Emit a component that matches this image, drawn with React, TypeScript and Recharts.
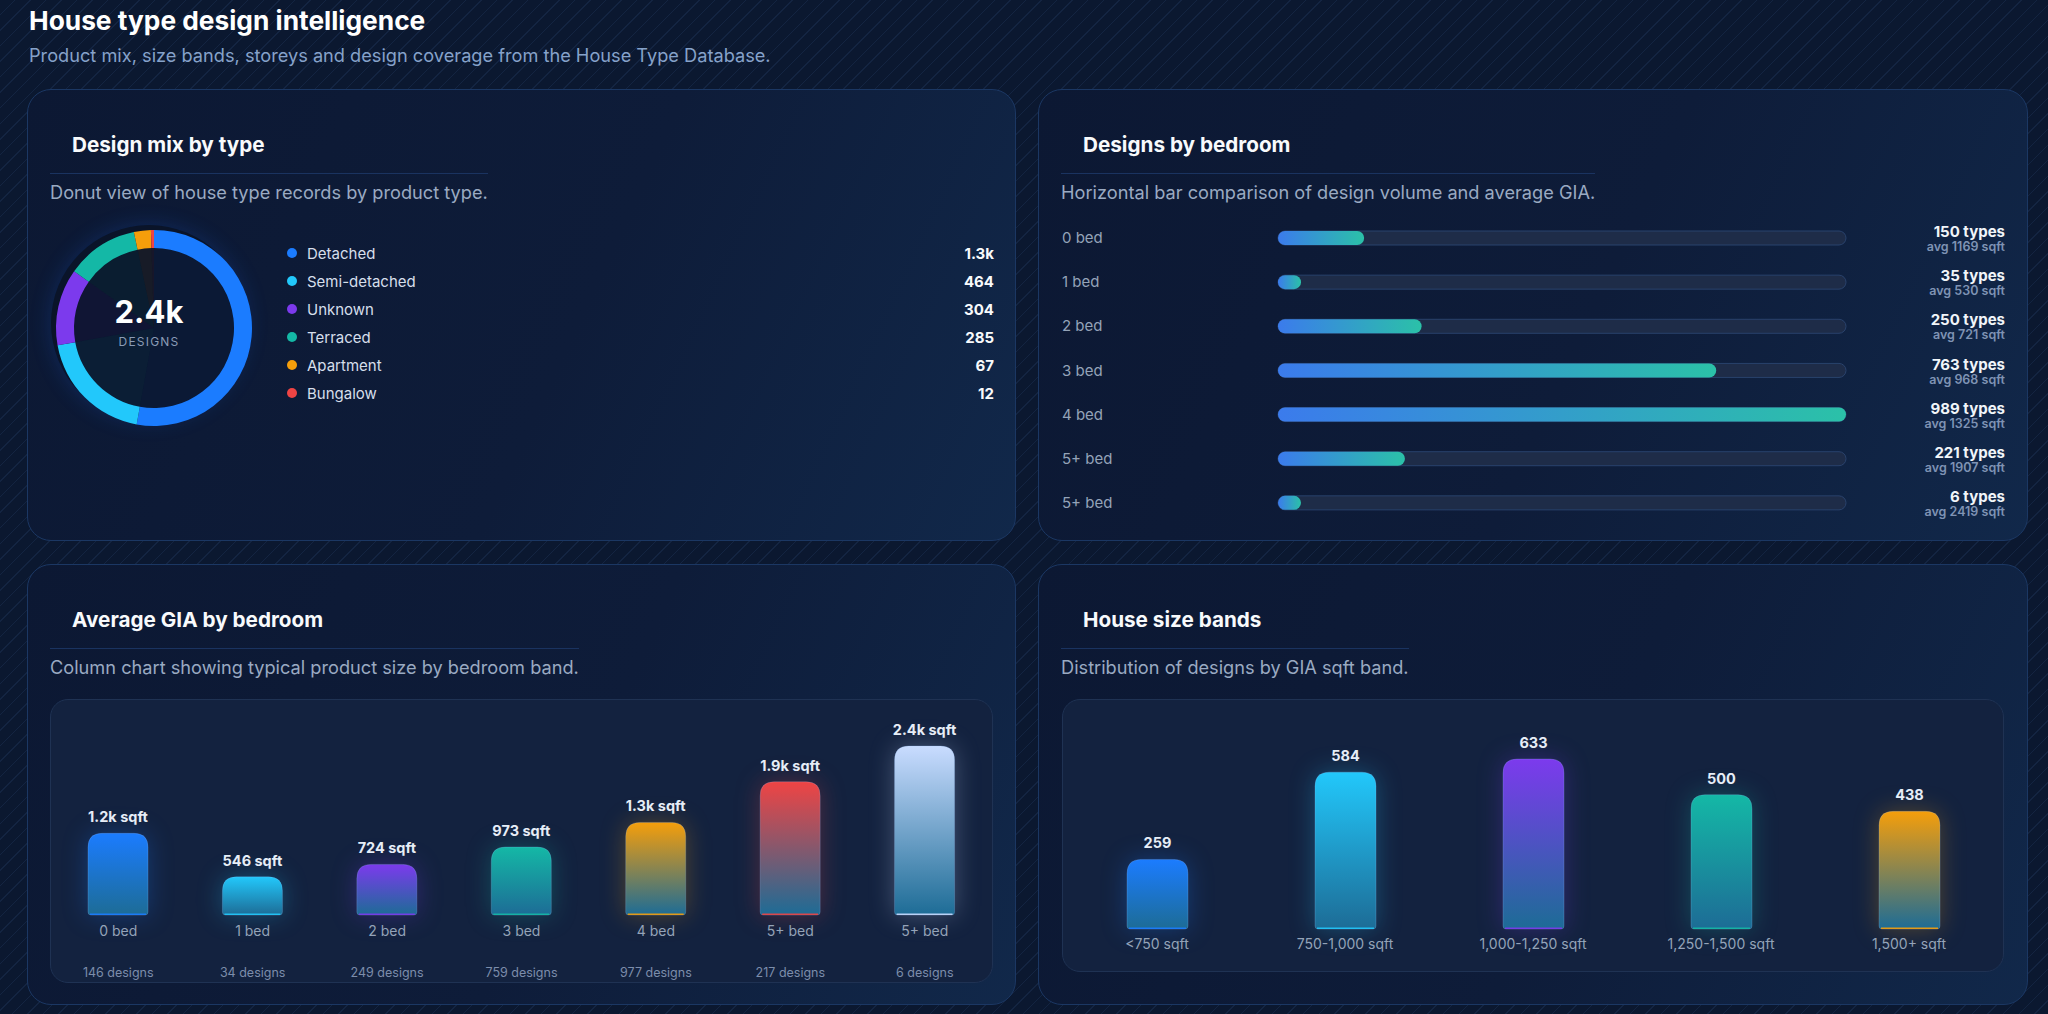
import { PieChart, Pie, Cell, BarChart, Bar, XAxis, YAxis, LabelList } from 'recharts'

const FONT = 'Inter, "Noto Sans", sans-serif'

// ─── Data ───────────────────────────────────────────────────────
const typeNames = ['Detached', 'Semi-detached', 'Unknown', 'Terraced', 'Apartment', 'Bungalow']
const typeCounts = [1268, 464, 304, 285, 67, 12]
const typeColors = ['#1b7cff', '#22c8fb', '#7c3aed', '#14b8a6', '#f59e0b', '#ef4444']

const bedLabels = ['0 bed', '1 bed', '2 bed', '3 bed', '4 bed', '5+ bed', '5+ bed']
const bedTypes = [150, 35, 250, 763, 989, 221, 6]
const bedAvgSqft = [1169, 530, 721, 968, 1325, 1907, 2419]

const giaLabels = ['0 bed', '1 bed', '2 bed', '3 bed', '4 bed', '5+ bed', '5+ bed']
const giaSqft = [1169, 546, 724, 973, 1325, 1907, 2419]
const giaDesigns = [146, 34, 249, 759, 977, 217, 6]
const giaColors = ['#1b7cff', '#22c8fb', '#7c3aed', '#14b8a6', '#f59e0b', '#ef4444', '#c9dcff']

const bandLabels = ['<750 sqft', '750-1,000 sqft', '1,000-1,250 sqft', '1,250-1,500 sqft', '1,500+ sqft']
const bandCounts = [259, 584, 633, 500, 438]
const bandColors = ['#1b7cff', '#22c8fb', '#7c3aed', '#14b8a6', '#f59e0b']

const typeData = typeNames.map((name, i) => ({ name, value: typeCounts[i] }))
const bedData = bedLabels.map((label, i) => ({ label, types: bedTypes[i], avg: bedAvgSqft[i] }))
const giaData = giaLabels.map((label, i) => ({ label, sqft: giaSqft[i], designs: giaDesigns[i] }))
const bandData = bandLabels.map((label, i) => ({ label, count: bandCounts[i] }))

const fmtK = (v: number) => (v >= 1000 ? `${(v / 1000).toFixed(1)}k` : `${v}`)
const totalDesigns = typeCounts.reduce((a, b) => a + b, 0)

const BOTTOM_TINT = '#1d6c96'

// ─── Card shell ─────────────────────────────────────────────────
function Card({ left, top, width, height, title, subtitle, children }: any) {
  return (
    <div
      style={{
        position: 'absolute', left, top, width, height, boxSizing: 'border-box',
        borderRadius: 24, border: '1px solid #1b3763',
        background: 'linear-gradient(115deg, #0c1833 0%, #0e1c39 55%, #11284a 100%)',
        overflow: 'hidden',
      }}
    >
      <div style={{ position: 'absolute', left: 22, top: 42, display: 'inline-flex', flexDirection: 'column' }}>
        <div
          style={{
            fontSize: 20.7, fontWeight: 700, color: '#f8fafc', lineHeight: '25px',
            padding: '0 0 16px 22px', borderBottom: '1.5px solid #1a3360',
          }}
        >
          {title}
        </div>
        <div style={{ marginTop: 7, fontSize: 18.2, lineHeight: '22px', color: '#9aaac2', whiteSpace: 'nowrap' }}>
          {subtitle}
        </div>
      </div>
      {children}
    </div>
  )
}

function Panel({ left, top, width, height, children }: any) {
  return (
    <div
      style={{
        position: 'absolute', left, top, width, height, boxSizing: 'border-box',
        borderRadius: 18, border: '1px solid #1f3253', background: '#13223f',
      }}
    >
      {children}
    </div>
  )
}

// ─── Column shape with rounded top + glow ───────────────────────
function Column(props: any) {
  const { x, y, width, height, index, colors, prefix } = props
  if (!height || height <= 0) return null
  const c = colors[index]
  const r = Math.min(14, height / 2)
  const rb = 3
  const b = y + height
  const d = `M${x},${y + r} Q${x},${y} ${x + r},${y} L${x + width - r},${y} Q${x + width},${y} ${x + width},${y + r}
    L${x + width},${b - rb} Q${x + width},${b} ${x + width - rb},${b} L${x + rb},${b} Q${x},${b} ${x},${b - rb} Z`
  return (
    <g style={{ filter: `drop-shadow(0 0 12px ${c}48)` }}>
      <path d={d} fill={`url(#${prefix}${index})`} stroke="rgba(160,200,255,0.22)" strokeWidth={1} />
      <rect x={x + 2} y={b - 1.5} width={width - 4} height={1.5} fill={c} opacity={0.9} />
    </g>
  )
}

// pill fill for the horizontal bars, never thinner than a small cap
function Pill(props: any) {
  const { x, y, width, height, fill } = props
  const w = Math.max(width, 23)
  const r = height / 2
  return <rect x={x} y={y} width={w} height={height} rx={r} ry={r} fill={fill} />
}

// ─── Donut ──────────────────────────────────────────────────────
function DesignMix() {
  return (
    <>
      <div
        style={{
          position: 'absolute', left: 23, top: 135, width: 196, height: 196, borderRadius: '50%',
          background: '#0a1429', boxShadow: '0 0 22px rgba(30,110,255,0.2)',
        }}
      />
      <div style={{ position: 'absolute', left: 11, top: 123 }}>
        <PieChart width={220} height={220}>
          <Pie
            data={typeData} dataKey="value" cx={110} cy={110} innerRadius={0} outerRadius={80}
            startAngle={90} endAngle={-270} stroke="none" isAnimationActive={false}
          >
            {typeColors.map((c, i) => <Cell key={i} fill={c} fillOpacity={0.06} />)}
          </Pie>
          <Pie
            data={typeData} dataKey="value" cx={110} cy={110} innerRadius={80} outerRadius={98}
            startAngle={90} endAngle={-270} stroke="none" isAnimationActive={false}
          >
            {typeColors.map((c, i) => <Cell key={i} fill={c} />)}
          </Pie>
        </PieChart>
      </div>
      <div style={{ position: 'absolute', left: 11, top: 204, width: 220, textAlign: 'center' }}>
        <div style={{ fontSize: 31, fontWeight: 700, color: '#ffffff', lineHeight: '36px' }}>{fmtK(totalDesigns)}</div>
        <div style={{ fontSize: 12, letterSpacing: 1.2, color: '#8a9bb6', lineHeight: '16px', marginTop: 4 }}>DESIGNS</div>
      </div>
      <div style={{ position: 'absolute', left: 259, top: 149, width: 707 }}>
        {typeNames.map((name, i) => (
          <div key={i} style={{ display: 'flex', alignItems: 'center', height: 28 }}>
            <div style={{ width: 10, height: 10, borderRadius: '50%', background: typeColors[i], marginRight: 10 }} />
            <div style={{ flex: 1, fontSize: 15, color: '#d6dfeb' }}>{name}</div>
            <div style={{ fontSize: 15, fontWeight: 700, color: '#f8fafc' }}>{fmtK(typeCounts[i])}</div>
          </div>
        ))}
      </div>
    </>
  )
}

// ─── Horizontal bars ────────────────────────────────────────────
const LEFT_W = 216
const RIGHT_W = 159

function BedTick(props: any) {
  const { x, y, payload } = props
  return (
    <text x={x - LEFT_W} y={y + 5} fontSize={15} fill="#94a3b8" fontFamily={FONT}>
      {payload.value}
    </text>
  )
}

function BedStatTick(props: any) {
  const { x, y, index } = props
  const row = bedData[index]
  return (
    <g fontFamily={FONT} textAnchor="end">
      <text x={x + RIGHT_W} y={y - 1} fontSize={15} fontWeight={700} fill="#f1f5f9">{row.types} types</text>
      <text x={x + RIGHT_W} y={y + 13} fontSize={12.5} fontWeight={600} fill="#7f93b4">avg {row.avg} sqft</text>
    </g>
  )
}

function DesignsByBedroom() {
  return (
    <div style={{ position: 'absolute', left: 23, top: 126 }}>
      <BarChart layout="vertical" width={943} height={309} data={bedData} margin={{ top: 0, right: 0, bottom: 0, left: 0 }} barSize={14}>
        <defs>
          <linearGradient id="hbarFill" x1="0" y1="0" x2="1" y2="0">
            <stop offset="0" stopColor="#3b7bec" />
            <stop offset="1" stopColor="#2bc1a8" />
          </linearGradient>
        </defs>
        <XAxis type="number" hide domain={[0, 'dataMax']} />
        <YAxis
          yAxisId="left" type="category" dataKey="label" width={LEFT_W}
          axisLine={false} tickLine={false} tickSize={0} tickMargin={0} tick={(p: any) => <BedTick {...p} />}
        />
        <YAxis
          yAxisId="right" orientation="right" type="category" dataKey="label" width={RIGHT_W}
          axisLine={false} tickLine={false} tickSize={0} tickMargin={0} tick={(p: any) => <BedStatTick {...p} />}
        />
        <Bar
          yAxisId="left" dataKey="types" fill="url(#hbarFill)"
          background={{ fill: '#1e2c48', stroke: '#29426c', strokeWidth: 1, radius: 7 }}
          shape={(p: any) => <Pill {...p} />}
          isAnimationActive={false}
        />
      </BarChart>
    </div>
  )
}

// ─── Column charts ──────────────────────────────────────────────
function GiaTick(props: any) {
  const { x, y, index } = props
  const row = giaData[index]
  return (
    <g fontFamily={FONT} textAnchor="middle">
      <text x={x} y={y + 21} fontSize={14} fill="#94a3b8">{row.label}</text>
      <text x={x} y={y + 62} fontSize={12.5} fill="#7c8dab">{row.designs} designs</text>
    </g>
  )
}

function BandTick(props: any) {
  const { x, y, payload } = props
  return (
    <text x={x} y={y + 20} fontSize={14} fill="#94a3b8" textAnchor="middle" fontFamily={FONT}>
      {payload.value}
    </text>
  )
}

function AverageGia() {
  return (
    <Panel left={22} top={134} width={943} height={284}>
      <BarChart width={941} height={282} data={giaData} margin={{ top: 46, right: 0, bottom: 0, left: 0 }} barSize={60}>
        <defs>
          {giaColors.map((c, i) => (
            <linearGradient key={i} id={`gia${i}`} x1="0" y1="0" x2="0" y2="1">
              <stop offset="0" stopColor={c} />
              <stop offset="1" stopColor={BOTTOM_TINT} />
            </linearGradient>
          ))}
        </defs>
        <XAxis
          dataKey="label" axisLine={false} tickLine={false} tickSize={0} tickMargin={0} height={67} interval={0}
          tick={(p: any) => <GiaTick {...p} />}
        />
        <YAxis hide domain={[0, 'dataMax']} />
        <Bar
          dataKey="sqft" isAnimationActive={false}
          shape={(p: any) => <Column {...p} colors={giaColors} prefix="gia" />}
        >
          <LabelList
            dataKey="sqft" position="top" offset={11} formatter={(v: any) => `${fmtK(Number(v))} sqft`}
            fill="#e6edf7" fontSize={14.5} fontWeight={700} fontFamily={FONT}
          />
        </Bar>
      </BarChart>
    </Panel>
  )
}

function SizeBands() {
  return (
    <Panel left={23} top={134} width={942} height={273}>
      <BarChart width={940} height={271} data={bandData} margin={{ top: 59, right: 0, bottom: 0, left: 0 }} barSize={61}>
        <defs>
          {bandColors.map((c, i) => (
            <linearGradient key={i} id={`band${i}`} x1="0" y1="0" x2="0" y2="1">
              <stop offset="0" stopColor={c} />
              <stop offset="1" stopColor={BOTTOM_TINT} />
            </linearGradient>
          ))}
        </defs>
        <XAxis
          dataKey="label" axisLine={false} tickLine={false} tickSize={0} tickMargin={0} height={42} interval={0}
          tick={(p: any) => <BandTick {...p} />}
        />
        <YAxis hide domain={[0, 'dataMax']} />
        <Bar
          dataKey="count" isAnimationActive={false}
          shape={(p: any) => <Column {...p} colors={bandColors} prefix="band" />}
        >
          <LabelList
            dataKey="count" position="top" offset={11}
            fill="#e6edf7" fontSize={14.5} fontWeight={700} fontFamily={FONT}
          />
        </Bar>
      </BarChart>
    </Panel>
  )
}

export default function App() {
  return (
    <div
      style={{
        position: 'relative', width: 2048, height: 1014, overflow: 'hidden', fontFamily: FONT,
        backgroundColor: '#0b1830',
        backgroundImage: 'repeating-linear-gradient(135deg, rgba(70,110,170,0) 0px, rgba(70,110,170,0) 10px, rgba(70,110,170,0.14) 10px, rgba(70,110,170,0.14) 11px)',
      }}
    >
      <style>{'body{margin:0}'}</style>
      <div style={{ position: 'absolute', left: 29, top: 5, fontSize: 26.3, lineHeight: '31px', fontWeight: 700, color: '#ffffff' }}>
        House type design intelligence
      </div>
      <div style={{ position: 'absolute', left: 29, top: 44, fontSize: 18.2, lineHeight: '22px', color: '#86a2ca' }}>
        Product mix, size bands, storeys and design coverage from the House Type Database.
      </div>

      <Card left={27} top={89} width={989} height={452} title="Design mix by type" subtitle="Donut view of house type records by product type.">
        <DesignMix />
      </Card>
      <Card left={1038} top={89} width={990} height={452} title="Designs by bedroom" subtitle="Horizontal bar comparison of design volume and average GIA.">
        <DesignsByBedroom />
      </Card>
      <Card left={27} top={564} width={989} height={441} title="Average GIA by bedroom" subtitle="Column chart showing typical product size by bedroom band.">
        <AverageGia />
      </Card>
      <Card left={1038} top={564} width={990} height={441} title="House size bands" subtitle="Distribution of designs by GIA sqft band.">
        <SizeBands />
      </Card>
    </div>
  )
}
